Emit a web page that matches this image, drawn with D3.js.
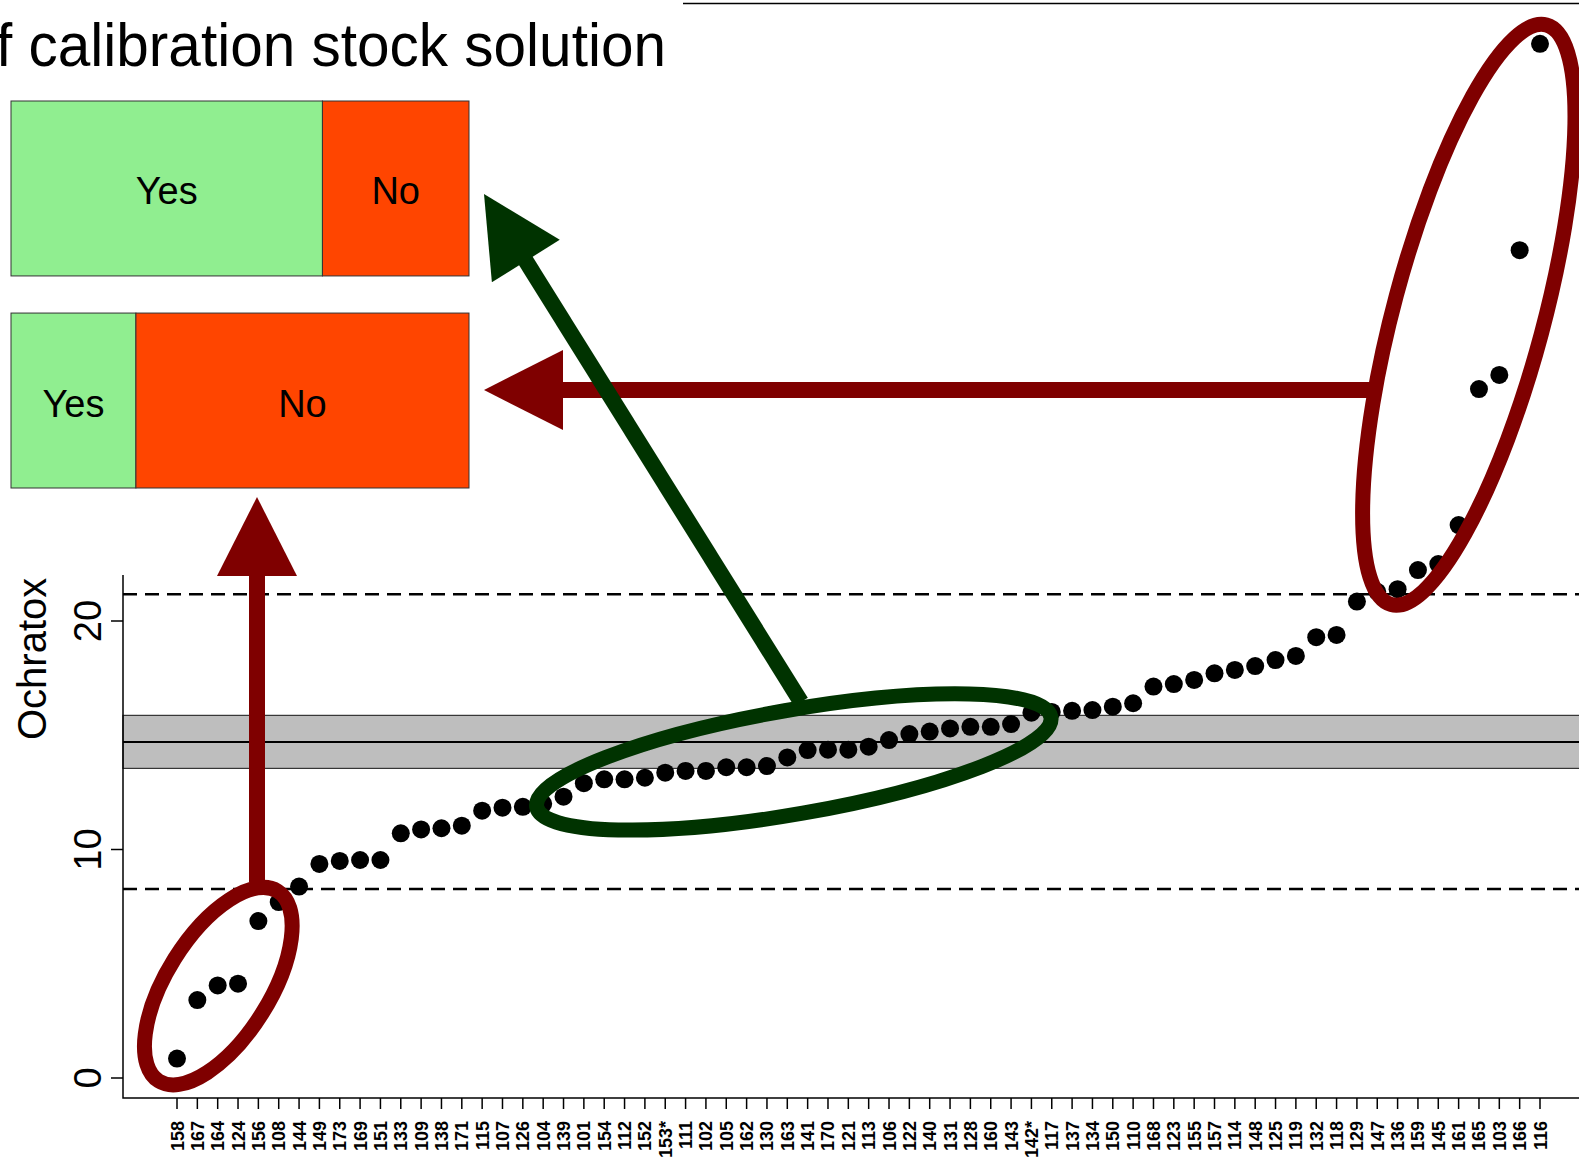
<!DOCTYPE html>
<html>
<head>
<meta charset="utf-8">
<script src="https://cdn.jsdelivr.net/npm/d3@7"></script>
<style>
  body { margin: 0; background: #fff; }
  svg { display: block; font-family: "Liberation Sans", Arial, sans-serif; }
</style>
</head>
<body>
<div id="chart"></div>
<script>
// lab codes, sorted by result
const labs = ["158","167","164","124","156","108","144","149","173","169","151","133","109","138","171",
  "115","107","126","104","139","101","154","112","152","153*","111","102","105","162","130","163",
  "141","170","121","113","106","122","140","131","128","160","143","142*","117","137","134","150",
  "110","168","123","155","157","114","148","125","119","132","118","129","147","136","159","145",
  "161","165","103","166","116"];

// ochratoxin results
const values = [0.85,3.41,4.05,4.13,6.87,7.70,8.38,9.37,9.50,9.54,9.54,10.71,10.88,10.93,11.04,
  11.70,11.83,11.87,12.00,12.31,12.90,13.07,13.07,13.14,13.36,13.44,13.44,13.60,13.60,13.65,14.03,
  14.35,14.37,14.37,14.50,14.79,15.05,15.16,15.30,15.37,15.37,15.49,15.99,16.02,16.07,16.10,16.25,
  16.40,17.13,17.24,17.42,17.71,17.86,18.03,18.29,18.47,19.29,19.39,20.85,21.28,21.39,22.23,22.49,
  24.20,30.15,30.77,36.23,45.26];

const yTicks = [0, 10, 20];
const assigned = 14.71;
const band = [13.55, 15.87];
const limits = [8.27, 21.17];

// questionnaire: use of calibration stock solution
const groups = ["satisfactory", "outliers"];
const yesCounts = [17, 3];
const noCounts = [8, 8];

const W = 1579, H = 1162;
const svg = d3.select("#chart").append("svg").attr("width", W).attr("height", H);
svg.append("rect").attr("width", W).attr("height", H).attr("fill", "#fff");

const x = d3.scalePoint().domain(labs).range([177, 1540]);
const y = d3.scaleLinear().domain([0, 20]).range([1078, 621]);
const xi = i => x(labs[0]) + i * x.step();

const left = 123, bottom = 1098, right = W;

// band and reference lines
svg.append("rect")
  .attr("x", left).attr("width", right - left + 20)
  .attr("y", y(band[1])).attr("height", y(band[0]) - y(band[1]))
  .attr("fill", "#bebebe").attr("stroke", "#333").attr("stroke-width", 1.2);
svg.append("line")
  .attr("x1", left).attr("x2", right)
  .attr("y1", y(assigned)).attr("y2", y(assigned))
  .attr("stroke", "#000").attr("stroke-width", 2);
svg.selectAll(".lim").data(limits).enter().append("line")
  .attr("x1", left).attr("x2", right)
  .attr("y1", d => y(d)).attr("y2", d => y(d))
  .attr("stroke", "#000").attr("stroke-width", 2.5)
  .attr("stroke-dasharray", "14,8");

// frame
svg.append("path")
  .attr("d", `M${left},575V${bottom}H${right}`)
  .attr("fill", "none").attr("stroke", "#000").attr("stroke-width", 1.5);
svg.append("line").attr("x1", 683).attr("x2", W).attr("y1", 3.5).attr("y2", 3.5)
  .attr("stroke", "#000").attr("stroke-width", 1.5);

// y axis
const yAxis = svg.append("g");
yAxis.selectAll("line").data(yTicks).enter().append("line")
  .attr("x1", left - 12).attr("x2", left)
  .attr("y1", d => y(d)).attr("y2", d => y(d))
  .attr("stroke", "#000").attr("stroke-width", 1.5);
yAxis.selectAll("text").data(yTicks).enter().append("text")
  .attr("transform", d => `translate(101,${y(d)}) rotate(-90)`)
  .attr("text-anchor", "middle")
  .attr("font-size", 38)
  .text(d => d);
svg.append("text")
  .attr("transform", "translate(46,740) rotate(-90)")
  .attr("font-size", 40)
  .text("Ochratox");

// x axis
const xAxis = svg.append("g");
xAxis.selectAll("line").data(labs).enter().append("line")
  .attr("x1", d => x(d)).attr("x2", d => x(d))
  .attr("y1", bottom).attr("y2", bottom + 11)
  .attr("stroke", "#000").attr("stroke-width", 1.5);
xAxis.selectAll("text").data(labs).enter().append("text")
  .attr("transform", d => `translate(${x(d) + 6.5},1121) rotate(-90)`)
  .attr("text-anchor", "end")
  .attr("font-size", 18).attr("font-weight", "bold")
  .text(d => d);

// points
svg.selectAll(".pt").data(values).enter().append("circle")
  .attr("cx", (d, i) => x(labs[i]))
  .attr("cy", d => y(d))
  .attr("r", 9)
  .attr("fill", "#000");

// stacked bars
const barX = d3.scaleLinear().domain([0, 1]).range([11, 469]);
const barY = d3.scaleBand().domain(groups).range([101, 488]).paddingInner(0.175);
const bars = svg.append("g");
groups.forEach((g, i) => {
  const tot = yesCounts[i] + noCounts[i];
  const f = yesCounts[i] / tot;
  const segs = [
    { a: 0, b: f, col: "#90ee90", lab: "Yes" },
    { a: f, b: 1, col: "#ff4500", lab: "No" }
  ];
  segs.forEach(s => {
    bars.append("rect")
      .attr("x", barX(s.a)).attr("width", barX(s.b) - barX(s.a))
      .attr("y", barY(g)).attr("height", barY.bandwidth())
      .attr("fill", s.col).attr("stroke", "#333").attr("stroke-width", 1);
    bars.append("text")
      .attr("x", (barX(s.a) + barX(s.b)) / 2)
      .attr("y", barY(g) + barY.bandwidth() / 2 + 16)
      .attr("text-anchor", "middle")
      .attr("font-size", 38)
      .text(s.lab);
  });
});

// title fragment
svg.append("text")
  .attr("x", -4).attr("y", 66)
  .attr("font-size", 62)
  .attr("textLength", 670).attr("lengthAdjust", "spacingAndGlyphs")
  .text("f calibration stock solution");

// annotations
const red = "#7f0000", green = "#003300";
const ellipses = [
  { i: 2.03, v: 4.02, a: 112, b: 51.6, rot: -57.9, col: red },
  { i: 30.32, v: 13.83, a: 261, b: 52, rot: -9.9, col: green },
  { i: 63.5, v: 33.4, a: 300, b: 75, rot: -75, col: red }
];
svg.selectAll(".ell").data(ellipses).enter().append("ellipse")
  .attr("transform", d => `translate(${xi(d.i)},${y(d.v)}) rotate(${d.rot})`)
  .attr("rx", d => d.a).attr("ry", d => d.b)
  .attr("fill", "none").attr("stroke", d => d.col).attr("stroke-width", 15);

const arrows = [
  { x0: 257, y0: 882, x1: 257, y1: 497, col: red },
  { x0: 1370, y0: 390, x1: 484, y1: 390, col: red },
  { x0: 801, y0: 702, x1: 484, y1: 194, col: green }
];
arrows.forEach(a => {
  const dx = a.x1 - a.x0, dy = a.y1 - a.y0, len = Math.hypot(dx, dy);
  const ux = dx / len, uy = dy / len, px = -uy, py = ux;
  const hl = 79, hw = 40;
  const bx = a.x1 - ux * hl, by = a.y1 - uy * hl;
  svg.append("line")
    .attr("x1", a.x0).attr("y1", a.y0).attr("x2", bx + ux * 2).attr("y2", by + uy * 2)
    .attr("stroke", a.col).attr("stroke-width", 16);
  svg.append("path")
    .attr("d", `M${a.x1},${a.y1}L${bx + px * hw},${by + py * hw}L${bx - px * hw},${by - py * hw}Z`)
    .attr("fill", a.col);
});
</script>
</body>
</html>
